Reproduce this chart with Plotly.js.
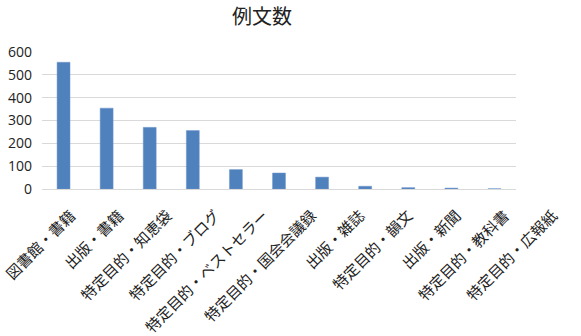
<!DOCTYPE html>
<html><head><meta charset="utf-8">
<script src="https://cdn.plot.ly/plotly-3.0.1.min.js"></script>
<style>html,body{margin:0;padding:0;background:#fff}#c{width:581px;height:336px}</style>
</head><body><div id="c"></div>
<script>
const categories = ["図書館・書籍","出版・書籍","特定目的・知恵袋","特定目的・ブログ","特定目的・ベストセラー","特定目的・国会会議録","出版・雑誌","特定目的・韻文","出版・新聞","特定目的・教科書","特定目的・広報紙"];
const counts = [555, 354, 270, 256, 85, 70, 52, 12, 6, 4, 1];
const yTicks = [0, 100, 200, 300, 400, 500, 600];
const idx = categories.map((c, i) => i);

Plotly.newPlot("c", [{
  type: "bar", x: categories, y: counts,
  marker: {color: "#4f81bd", line: {color: "#6d97cc", width: 0.5}},
  hoverinfo: "x+y"
}, {
  type: "scatter", mode: "none", x: idx, y: counts, xaxis: "x2", yaxis: "y2",
  hoverinfo: "skip", showlegend: false
}], {
  width: 581, height: 336,
  margin: {l: 42, r: 20, t: 52, b: 147},
  paper_bgcolor: "#fff", plot_bgcolor: "rgba(0,0,0,0)",
  bargap: 0.7,
  title: {text: "例文数", x: 262/581, xanchor: "center", y: 0.95, yanchor: "middle",
          font: {family: "Noto Sans CJK JP", size: 20, color: "#222"}},
  xaxis: {type: "category", domain: [0, 474/519], showgrid: false, ticks: "",
          showticklabels: false,
          showline: true, linecolor: "#d9d9d9", linewidth: 1},
  xaxis2: {domain: [0, 1], anchor: "y2", range: [-0.6017, 10.166],
           tickvals: idx, ticktext: categories, tickangle: -45,
           showgrid: false, zeroline: false, showline: false, ticks: "",
           ticklabelstandoff: 14,
           tickfont: {family: "Noto Sans CJK JP", size: 15, color: "#222"}},
  yaxis: {range: [0, 600], tickvals: yTicks, showgrid: true, gridcolor: "#d9d9d9",
          zeroline: false, showline: false, ticks: "", ticklabelstandoff: 9,
          tickfont: {family: "Open Sans", size: 14, color: "#222"}},
  yaxis2: {range: [0, 600], overlaying: "y", visible: false, showgrid: false, zeroline: false},
  showlegend: false
}, {displayModeBar: false, staticPlot: true});
</script></body></html>
